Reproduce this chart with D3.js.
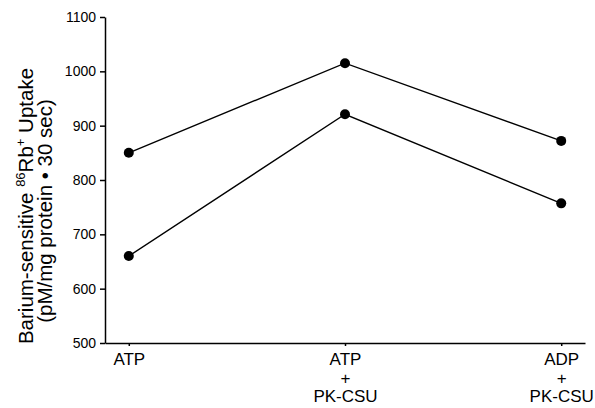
<!DOCTYPE html>
<html lang="en">
<head>
<meta charset="UTF-8">
<title>Rb uptake</title>
<script src="https://cdn.jsdelivr.net/npm/d3@7"></script>
<style>
    body{ margin:0; background:#fff; }
    svg{ font-family:"Liberation Sans", Arial, Helvetica, sans-serif; }
    .axis path, .axis line{ stroke:#000; stroke-width:1.5px; }
    .y-axis text{ font-size:14px; fill:#000; }
    .x-axis text{ font-size:17px; fill:#000; }
    .series{ fill:none; stroke:#000; stroke-width:1.4px; }
    .dot{ fill:#000; }
</style>
</head>
<body>
<script>
    // categories (x) and the two measured series
    var categories = ["ATP", "ATP\n+\nPK-CSU", "ADP\n+\nPK-CSU"];
    var upperSeries = [850, 1015, 872];
    var lowerSeries = [660, 921, 757];
    var yTicks = [500, 600, 700, 800, 900, 1000, 1100];

    var width = 595, height = 408;

    var svg = d3.select("body").append("svg")
        .attr("width", width)
        .attr("height", height);

    var x = d3.scalePoint()
        .domain(categories)
        .range([105, 585])
        .padding(0.11);

    var y = d3.scaleLinear()
        .domain([500, 1100])
        .range([343, 17]);

    // y axis
    svg.append("g")
        .attr("class", "axis y-axis")
        .attr("transform", "translate(105,0)")
        .call(d3.axisLeft(y).tickValues(yTicks).tickFormat(d3.format("d"))
            .tickSize(5).tickSizeOuter(0).tickPadding(4));

    // x axis, multi line labels
    var xg = svg.append("g")
        .attr("class", "axis x-axis")
        .attr("transform", "translate(0,343)")
        .call(d3.axisBottom(x).tickSize(3).tickSizeOuter(0));

    xg.selectAll(".tick text").each(function(d){
        var t = d3.select(this).text(null).attr("y", 0).attr("dy", null);
        d.split("\n").forEach(function(s, i){
            t.append("tspan")
                .attr("x", 0)
                .attr("y", 22 + i * 18.5)
                .text(s);
        });
    });

    // y label (two lines, rotated)
    var lab = svg.append("text")
        .attr("transform", "translate(33,206) rotate(-90)")
        .attr("text-anchor", "middle")
        .style("font-size", "20.5px");
    lab.append("tspan").text("Barium-sensitive ");
    lab.append("tspan").attr("dy", -8).style("font-size", "13px").text("86");
    lab.append("tspan").attr("dy", 8).text("Rb");
    lab.append("tspan").attr("dy", -8).style("font-size", "13px").text("+");
    lab.append("tspan").attr("dy", 8).text(" Uptake");

    svg.append("text")
        .attr("transform", "translate(52,211) rotate(-90)")
        .attr("text-anchor", "middle")
        .style("font-size", "20.5px")
        .text("(pM/mg protein \u2022 30 sec)");

    var line = d3.line()
        .x(function(d, i){ return x(categories[i]); })
        .y(function(d){ return y(d); });

    [upperSeries, lowerSeries].forEach(function(s){
        svg.append("path").attr("class", "series").attr("d", line(s));
        svg.selectAll(null).data(s).enter().append("circle")
            .attr("class", "dot")
            .attr("cx", function(d, i){ return x(categories[i]); })
            .attr("cy", function(d){ return y(d); })
            .attr("r", 5);
    });
</script>
</body>
</html>
